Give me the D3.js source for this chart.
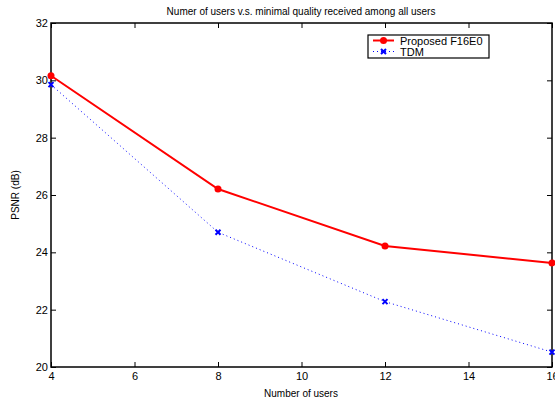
<!DOCTYPE html>
<html>
<head>
<meta charset="utf-8">
<script src="https://cdn.jsdelivr.net/npm/d3@7"></script>
<style>
  body { margin: 0; background: #fff; }
  svg { display: block; font-family: "Liberation Sans", Arial, sans-serif; }
</style>
</head>
<body>
<svg id="chart" width="555" height="400"></svg>
<script>
const users = [4, 8, 12, 16];
const proposed = [30.16, 26.21, 24.22, 23.63];
const tdm = [29.85, 24.70, 22.28, 20.52];
const xTicks = [4, 6, 8, 10, 12, 14, 16];
const yTicks = [20, 22, 24, 26, 28, 30, 32];

const svg = d3.select("#chart");
const plotL = 51, plotR = 552, plotT = 23, plotB = 367;

const x = d3.scaleLinear().domain([4, 16]).range([plotL, plotR]);
const y = d3.scaleLinear().domain([20, 32]).range([plotB, plotT]);

// axes with inward ticks
svg.append("g")
    .attr("transform", `translate(0,${plotB})`)
    .call(d3.axisBottom(x).tickValues(xTicks).tickSize(-5).tickPadding(5))
    .call(g => g.select(".domain").remove());
svg.append("g")
    .attr("transform", `translate(${plotL},0)`)
    .call(d3.axisLeft(y).tickValues(yTicks).tickSize(-5).tickPadding(3))
    .call(g => g.select(".domain").remove());
svg.append("g")
    .attr("transform", `translate(0,${plotT})`)
    .call(d3.axisTop(x).tickValues(xTicks).tickSize(-5).tickFormat(""))
    .call(g => g.select(".domain").remove());
svg.append("g")
    .attr("transform", `translate(${plotR},0)`)
    .call(d3.axisRight(y).tickValues(yTicks).tickSize(-5).tickFormat(""))
    .call(g => g.select(".domain").remove());

svg.selectAll(".tick text").attr("font-size", 11).attr("fill", "#000");
svg.selectAll(".tick line").attr("stroke", "#000");

svg.append("rect")
    .attr("x", plotL).attr("y", plotT)
    .attr("width", plotR - plotL).attr("height", plotB - plotT)
    .attr("fill", "none").attr("stroke", "#000").attr("stroke-width", 1.5);

const redData = users.map((u, i) => [u, proposed[i]]);
const blueData = users.map((u, i) => [u, tdm[i]]);
const line = d3.line().x(d => x(d[0])).y(d => y(d[1]));

svg.append("path")
    .attr("d", line(blueData))
    .attr("fill", "none").attr("stroke", "#0000ff")
    .attr("stroke-width", 1).attr("stroke-dasharray", "1,3");

svg.append("path")
    .attr("d", line(redData))
    .attr("fill", "none").attr("stroke", "#ff0000").attr("stroke-width", 2);

function cross(g, cx, cy, s) {
    g.append("path")
        .attr("d", `M${cx - s},${cy - s}L${cx + s},${cy + s}M${cx - s},${cy + s}L${cx + s},${cy - s}`)
        .attr("stroke", "#0000ff").attr("stroke-width", 2);
}

svg.append("g").selectAll("circle").data(redData).join("circle")
    .attr("cx", d => x(d[0])).attr("cy", d => y(d[1])).attr("r", 3.5)
    .attr("fill", "#ff0000");

const crosses = svg.append("g");
blueData.forEach(d => cross(crosses, x(d[0]), y(d[1]), 2.5));

// title and labels
svg.append("text")
    .attr("x", 301).attr("y", 15)
    .attr("text-anchor", "middle").attr("font-size", 10)
    .text("Numer of users v.s. minimal quality received among all users");

svg.append("text")
    .attr("x", 301).attr("y", 397)
    .attr("text-anchor", "middle").attr("font-size", 10)
    .text("Number of users");

svg.append("text")
    .attr("transform", `translate(19,${(plotT + plotB) / 2}) rotate(-90)`)
    .attr("text-anchor", "middle").attr("font-size", 10)
    .text("PSNR (dB)");

// legend
const lg = svg.append("g");
lg.append("rect")
    .attr("x", 368).attr("y", 35).attr("width", 121).attr("height", 23)
    .attr("fill", "#fff").attr("stroke", "#000").attr("stroke-width", 1.2);
lg.append("line").attr("x1", 373).attr("x2", 394).attr("y1", 40.5).attr("y2", 40.5)
    .attr("stroke", "#ff0000").attr("stroke-width", 2);
lg.append("circle").attr("cx", 383.5).attr("cy", 40.5).attr("r", 3.5).attr("fill", "#ff0000");
lg.append("line").attr("x1", 373).attr("x2", 394).attr("y1", 51.5).attr("y2", 51.5)
    .attr("stroke", "#0000ff").attr("stroke-width", 1).attr("stroke-dasharray", "1,3");
cross(lg, 383.5, 51.5, 2.5);
lg.append("text").attr("x", 400).attr("y", 44.5).attr("font-size", 11).text("Proposed F16E0");
lg.append("text").attr("x", 400).attr("y", 55.5).attr("font-size", 11).text("TDM");
</script>
</body>
</html>
